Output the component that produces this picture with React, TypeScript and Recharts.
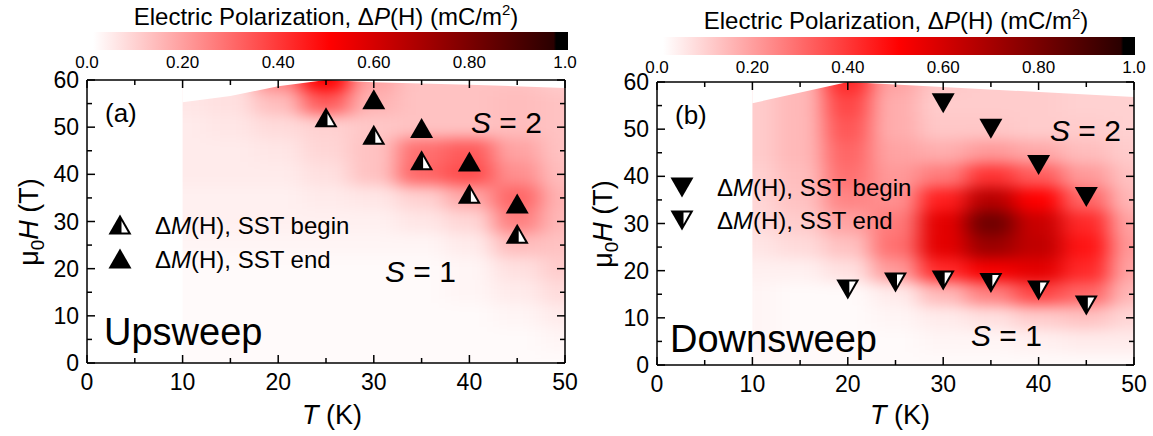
import React from "react";
import { ComposedChart, Scatter, Area, XAxis, YAxis, ReferenceArea } from "recharts";

// field grid of the polarization maps (T in K, H in T)
const gridT = [10, 15, 20, 25, 30, 35, 40, 45, 50];
const gridH = [60, 55, 50, 45, 40, 35, 30, 25, 20, 15, 10, 5, 0];

// upsweep dP, rows follow gridH (60 T at the top)
const upGrid = [
    [0.05, 0.06, 0.24, 0.5, 0.18, 0.12, 0.12, 0.12, 0.1],
    [0.05, 0.06, 0.13, 0.32, 0.15, 0.12, 0.12, 0.13, 0.12],
    [0.04, 0.05, 0.07, 0.09, 0.11, 0.12, 0.12, 0.13, 0.12],
    [0.04, 0.04, 0.05, 0.08, 0.12, 0.28, 0.32, 0.18, 0.12],
    [0.04, 0.04, 0.04, 0.06, 0.12, 0.3, 0.35, 0.22, 0.13],
    [0.03, 0.03, 0.03, 0.04, 0.05, 0.09, 0.17, 0.3, 0.15],
    [0.03, 0.03, 0.03, 0.03, 0.03, 0.05, 0.08, 0.25, 0.14],
    [0.02, 0.02, 0.02, 0.02, 0.02, 0.02, 0.04, 0.13, 0.12],
    [0.01, 0.01, 0.01, 0.01, 0.01, 0.01, 0.02, 0.06, 0.1],
    [0.01, 0.01, 0.01, 0.01, 0.01, 0.01, 0.02, 0.04, 0.07],
    [0.01, 0.01, 0.01, 0.01, 0.01, 0.01, 0.01, 0.02, 0.04],
    [0.01, 0.01, 0.01, 0.01, 0.01, 0.01, 0.01, 0.01, 0.02],
    [0.01, 0.01, 0.01, 0.01, 0.01, 0.01, 0.01, 0.01, 0.01],
];

// downsweep dP
const downGrid = [
    [0.1, 0.14, 0.42, 0.18, 0.11, 0.1, 0.1, 0.09, 0.09],
    [0.1, 0.14, 0.36, 0.16, 0.1, 0.1, 0.1, 0.09, 0.09],
    [0.1, 0.14, 0.33, 0.16, 0.11, 0.11, 0.1, 0.1, 0.09],
    [0.1, 0.14, 0.3, 0.18, 0.16, 0.2, 0.17, 0.13, 0.1],
    [0.09, 0.13, 0.28, 0.2, 0.26, 0.4, 0.32, 0.2, 0.12],
    [0.08, 0.12, 0.24, 0.22, 0.44, 0.66, 0.5, 0.3, 0.14],
    [0.07, 0.1, 0.18, 0.26, 0.56, 0.82, 0.62, 0.42, 0.18],
    [0.05, 0.07, 0.12, 0.28, 0.56, 0.72, 0.64, 0.46, 0.2],
    [0.03, 0.03, 0.06, 0.2, 0.42, 0.52, 0.56, 0.42, 0.18],
    [0.02, 0.01, 0.01, 0.04, 0.14, 0.25, 0.36, 0.3, 0.14],
    [0.02, 0.01, 0.01, 0.02, 0.04, 0.06, 0.1, 0.12, 0.08],
    [0.02, 0.01, 0.01, 0.01, 0.02, 0.02, 0.03, 0.04, 0.04],
    [0.01, 0.01, 0.01, 0.01, 0.01, 0.01, 0.01, 0.01, 0.01],
];

// highest field reached at each temperature
const upTopT = [10, 15, 20, 25, 30, 40, 50];
const upTopH = [55.3, 56.6, 58.7, 60, 59.5, 59, 58.3];
const downTopT = [10, 20, 50];
const downTopH = [55.5, 60, 56.8];

// dM(H) transitions
const upBeginT = [25, 30, 35, 40, 45];
const upBeginH = [52.0, 48.3, 42.9, 35.8, 27.3];
const upEndT = [30, 35, 40, 45];
const upEndH = [55.8, 49.7, 42.6, 33.7];
const downBeginT = [30, 35, 40, 45];
const downBeginH = [55.6, 50.2, 42.5, 35.7];
const downEndT = [20, 25, 30, 35, 40, 45];
const downEndH = [16.1, 17.6, 18.0, 17.5, 15.9, 12.7];

const xTicks = [0, 5, 10, 15, 20, 25, 30, 35, 40, 45, 50];
const yTicks = [0, 5, 10, 15, 20, 25, 30, 35, 40, 45, 50, 55, 60];
const cbTicks = [0, 0.2, 0.4, 0.6, 0.8, 1.0];
const cbLabels = ["0.0", "0.20", "0.40", "0.60", "0.80", "1.0"];

const FONT = "'Liberation Sans', Arial, sans-serif";

const heatColor = (v: number) => {
    if (v <= 0.5) {
        const g = Math.round(255 * (1 - 2 * v));
        return `rgb(255,${g},${g})`;
    }
    const t = (v - 0.5) / 0.5;
    return `rgb(${Math.round(255 - t * 225)},0,0)`;
};

const toCells = (grid: number[][]) =>
    grid.flatMap((row, i) => row.map((v, j) => ({ T: gridT[j], H: gridH[i], v })));
const toPts = (ts: number[], hs: number[]) => ts.map((T, i) => ({ T, H: hs[i] }));

const Tri = ({ cx, cy, down, half }: { cx: number; cy: number; down?: boolean; half?: boolean }) => {
    const s = down ? -1 : 1;
    const outer = `${cx},${cy - 10.5 * s} ${cx + 11.5},${cy + 9.5 * s} ${cx - 11.5},${cy + 9.5 * s}`;
    const inner = `${cx + 1.5},${cy - 3.9 * s} ${cx + 8},${cy + 7.5 * s} ${cx + 1.5},${cy + 7.5 * s}`;
    return (
        <g>
            <polygon points={outer} fill="#000" />
            {half && <polygon points={inner} fill="#fff" />}
        </g>
    );
};

const makeTick = (side: string, labels: boolean) => (p: any) => {
    const { x, y, payload } = p;
    const major = payload.value % 10 === 0;
    const len = major ? 8 : 5;
    const st = { stroke: "#000", strokeWidth: 1.5 };
    if (side === "bottom")
        return (
            <g>
                <line x1={x} x2={x} y1={y} y2={y - len} {...st} />
                {labels && major && (
                    <text x={x} y={y + 27} textAnchor="middle" fontSize={23} fontFamily={FONT} fill="#000">
                        {payload.value}
                    </text>
                )}
            </g>
        );
    if (side === "top") return <line x1={x} x2={x} y1={y} y2={y + len} {...st} />;
    if (side === "right") return <line x1={x} x2={x - len} y1={y} y2={y} {...st} />;
    return (
        <g>
            <line x1={x} x2={x + len} y1={y} y2={y} {...st} />
            {labels && major && (
                <text x={x - 8} y={y + 8} textAnchor="end" fontSize={23} fontFamily={FONT} fill="#000">
                    {payload.value}
                </text>
            )}
        </g>
    );
};

interface PanelProps {
    left: number;
    width: number;
    margin: { top: number; right: number; bottom: number; left: number };
    grid: number[][];
    top: { T: number; H: number }[];
    series: { data: { T: number; H: number }[]; down?: boolean; half?: boolean }[];
}

const axisLine = { stroke: "#000", strokeWidth: 1.5 };

// margins are the plot box minus the 1px that every axis takes
const Panel: React.FC<PanelProps> = ({ left, width, margin, grid, top, series }) => {
    const h = 436;
    const cw = (width - margin.left - margin.right) / 10;
    const ch = (h - margin.top - margin.bottom) / 12;
    const m = { top: margin.top - 1, right: margin.right - 1, bottom: margin.bottom - 1, left: margin.left - 1 };
    return (
        <div style={{ position: "absolute", left, top: 0 }}>
            <ComposedChart width={width} height={h} data={top} margin={m}>
                <Scatter data={toCells(grid)} className="heat-layer" isAnimationActive={false} zIndex={50}
                    shape={(p: any) => (
                        <rect x={p.cx - cw / 2 - 0.5} y={p.cy - ch / 2 - 0.5} width={cw + 1} height={ch + 1}
                            fill={heatColor(p.payload.v)} />
                    )} />
                <Area dataKey="H" type="linear" baseValue="dataMax" fill="#fff" fillOpacity={1} stroke="none"
                    dot={false} activeDot={false} isAnimationActive={false} zIndex={60} />
                <ReferenceArea x1={0} x2={10} y1={0} y2={60} fill="#fff" fillOpacity={1} stroke="none" zIndex={60} />
                <XAxis xAxisId={0} dataKey="T" type="number" domain={[0, 50]} ticks={xTicks} interval={0}
                    allowDataOverflow height={1} tickSize={0} tickMargin={0} tickLine={false}
                    axisLine={axisLine} tick={makeTick("bottom", true)} />
                <XAxis xAxisId="top" orientation="top" dataKey="T" type="number" domain={[0, 50]} ticks={xTicks}
                    interval={0} allowDataOverflow height={1} tickSize={0} tickMargin={0} tickLine={false}
                    axisLine={axisLine} tick={makeTick("top", false)} />
                <YAxis yAxisId={0} dataKey="H" type="number" domain={[0, 60]} ticks={yTicks} interval={0}
                    allowDataOverflow width={1} tickSize={0} tickMargin={0} tickLine={false}
                    axisLine={axisLine} tick={makeTick("left", true)} />
                <YAxis yAxisId="right" orientation="right" dataKey="H" type="number" domain={[0, 60]} ticks={yTicks}
                    interval={0} allowDataOverflow width={1} tickSize={0} tickMargin={0} tickLine={false}
                    axisLine={axisLine} tick={makeTick("right", false)} />
                {series.map((s, i) => (
                    <Scatter key={i} data={s.data} isAnimationActive={false} zIndex={700}
                        shape={(p: any) => <Tri cx={p.cx} cy={p.cy} down={s.down} half={s.half} />} />
                ))}
            </ComposedChart>
        </div>
    );
};

const ColorBar = ({ x0, x1, barX, barW, barY, titleX, titleY, tickY }: any) => (
    <g fontFamily={FONT} fill="#000">
        <text x={titleX} y={titleY} textAnchor="middle" fontSize={24}>
            Electric Polarization, Δ<tspan fontStyle="italic">P</tspan>(H) (mC/m
            <tspan dy={-10} fontSize={15}>2</tspan>
            <tspan dy={10}>)</tspan>
        </text>
        <rect x={barX} y={barY} width={barW} height={18} fill="url(#cbGrad)" />
        {cbTicks.map((v, i) => (
            <text key={i} x={x0 + v * (x1 - x0)} y={tickY} textAnchor="middle" fontSize={17}>
                {cbLabels[i]}
            </text>
        ))}
    </g>
);

const Legend = ({ x, y1, y2, first, second }: any) => (
    <g fontFamily={FONT} fontSize={24} fill="#000">
        <Tri cx={x} cy={y1} down={first.down} half={first.half} />
        <Tri cx={x} cy={y2} down={second.down} half={second.half} />
        <text x={x + 35} y={y1 + 9}>
            Δ<tspan fontStyle="italic">M</tspan>(H), SST {first.label}
        </text>
        <text x={x + 35} y={y2 + 9}>
            Δ<tspan fontStyle="italic">M</tspan>(H), SST {second.label}
        </text>
    </g>
);

const SLabel = ({ x, y, n }: any) => (
    <text x={x} y={y} fontSize={30} fontFamily={FONT} fill="#000">
        <tspan fontStyle="italic">S</tspan> = {n}
    </text>
);

const YTitle = ({ x, y }: any) => (
    <text x={x} y={y} transform={`rotate(-90 ${x} ${y})`} textAnchor="middle" fontSize={27} fontFamily={FONT} fill="#000">
        μ<tspan dy={6} fontSize={19}>0</tspan>
        <tspan dy={-6} fontStyle="italic">H</tspan> (T)
    </text>
);

const XTitle = ({ x, y }: any) => (
    <text x={x} y={y} textAnchor="middle" fontSize={27} fontFamily={FONT} fill="#000">
        <tspan fontStyle="italic">T</tspan> (K)
    </text>
);

export default function App() {
    return (
        <div style={{ position: "absolute", left: 0, top: 0, width: 1153, height: 436, background: "#fff" }}>
            <style>{".heat-layer{filter:url(#heatBlur)} .recharts-surface{overflow:visible}"}</style>
            <Panel left={0} width={576} margin={{ top: 80, right: 11, bottom: 73, left: 87 }} grid={upGrid}
                top={toPts(upTopT, upTopH)}
                series={[
                    { data: toPts(upBeginT, upBeginH), half: true },
                    { data: toPts(upEndT, upEndH) },
                ]} />
            <Panel left={576} width={577} margin={{ top: 82, right: 19, bottom: 71, left: 81 }} grid={downGrid}
                top={toPts(downTopT, downTopH)}
                series={[
                    { data: toPts(downBeginT, downBeginH), down: true },
                    { data: toPts(downEndT, downEndH), down: true, half: true },
                ]} />
            <svg width={1153} height={436} style={{ position: "absolute", left: 0, top: 0, pointerEvents: "none" }}>
                <defs>
                    <filter id="heatBlur" x="-10%" y="-10%" width="120%" height="120%" colorInterpolationFilters="sRGB">
                        <feGaussianBlur stdDeviation="11 7" />
                        <feComponentTransfer>
                            <feFuncA type="discrete" tableValues="0 1" />
                        </feComponentTransfer>
                    </filter>
                    <linearGradient id="cbGrad" x1="0" x2="1" y1="0" y2="0">
                        <stop offset="0" stopColor="#ffffff" />
                        <stop offset="0.5" stopColor="#ff0000" />
                        <stop offset="0.97" stopColor="#2a0000" />
                        <stop offset="0.975" stopColor="#000000" />
                        <stop offset="1" stopColor="#000000" />
                    </linearGradient>
                </defs>
                <ColorBar x0={87} x1={565} barX={93} barW={475} barY={32} titleX={326} titleY={25} tickY={68} />
                <ColorBar x0={657} x1={1134} barX={663} barW={472} barY={37} titleX={896} titleY={29} tickY={73} />

                <text x={105} y={122} fontSize={26} fontFamily={FONT}>(a)</text>
                <text x={675} y={124} fontSize={26} fontFamily={FONT}>(b)</text>
                <text x={104} y={345} fontSize={38} fontFamily={FONT}>Upsweep</text>
                <text x={670} y={352} fontSize={38} fontFamily={FONT}>Downsweep</text>
                <SLabel x={471} y={133} n={2} />
                <SLabel x={385} y={282} n={1} />
                <SLabel x={1050} y={141} n={2} />
                <SLabel x={971} y={346} n={1} />

                <Legend x={120} y1={225} y2={259} first={{ half: true, label: "begin" }} second={{ label: "end" }} />
                <Legend x={682} y1={187} y2={220} first={{ down: true, label: "begin" }}
                    second={{ down: true, half: true, label: "end" }} />

                <YTitle x={38} y={222} />
                <YTitle x={612} y={224} />
                <XTitle x={332} y={424} />
                <XTitle x={900} y={424} />
            </svg>
        </div>
    );
}
